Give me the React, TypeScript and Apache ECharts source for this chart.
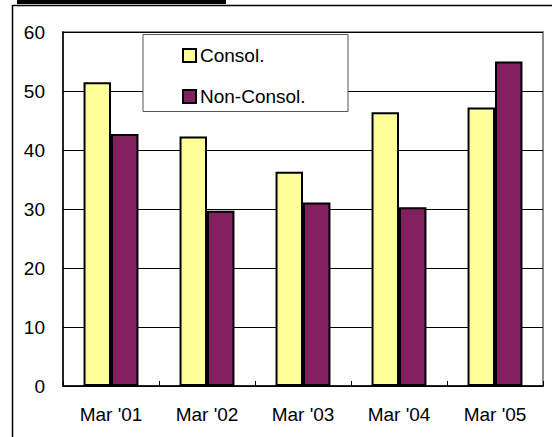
import React, { useEffect, useRef } from "react";
import * as echarts from "echarts";

const categories = ["Mar '01", "Mar '02", "Mar '03", "Mar '04", "Mar '05"];
const consol = [51.5, 42.3, 36.3, 46.4, 47.2];
const nonConsol = [42.7, 29.7, 31.1, 30.3, 55.0];
const seriesNames = ["Consol.", "Non-Consol."];

const FONT = 'Arial, "Liberation Sans", Helvetica, sans-serif';

export default function App() {
  const ref = useRef<HTMLDivElement>(null);
  useEffect(() => {
    if (!ref.current) return;
    const chart = echarts.init(ref.current, null, { renderer: "svg" });
    chart.setOption({
      animation: false,
      backgroundColor: "#ffffff",
      textStyle: { fontFamily: FONT },
      grid: {
        left: 63,
        right: 9,
        top: 32,
        bottom: 51,
        show: true,
        borderColor: "#8c8c8c",
        borderWidth: 2,
        backgroundColor: "transparent",
      },
      graphic: [
        { type: "line", shape: { x1: 12.5, y1: 5.5, x2: 552, y2: 5.5 }, style: { stroke: "#000", lineWidth: 1.5 } },
        { type: "line", shape: { x1: 12.5, y1: 5, x2: 12.5, y2: 437 }, style: { stroke: "#000", lineWidth: 1.5 } },
        { type: "rect", shape: { x: 17, y: 0, width: 209, height: 4 }, style: { fill: "#000" } },
        {
          type: "rect",
          shape: { x: 143, y: 34.5, width: 205, height: 77 },
          style: { fill: "#fff", stroke: "#555", lineWidth: 1 },
          z: 10,
        },
      ],
      legend: {
        orient: "vertical",
        left: 182,
        top: 46,
        itemWidth: 13,
        itemHeight: 13,
        itemGap: 22,
        padding: 0,
        z: 20,
        icon: "rect",
        data: seriesNames,
        textStyle: { fontSize: 19, color: "#000", fontFamily: FONT, padding: [0, 0, 0, -1] },
        itemStyle: { borderColor: "#000", borderWidth: 2 },
      },
      xAxis: {
        type: "category",
        data: categories,
        axisLine: { lineStyle: { color: "#000", width: 1.5 } },
        axisTick: { show: true, inside: true, length: 5, lineStyle: { color: "#000" } },
        axisLabel: { fontSize: 19, color: "#000", margin: 19, fontFamily: FONT },
      },
      yAxis: {
        type: "value",
        min: 0,
        max: 60,
        interval: 10,
        axisLine: { show: true, lineStyle: { color: "#000", width: 1.5 } },
        axisTick: { show: false },
        splitLine: { lineStyle: { color: "#000", width: 1 } },
        axisLabel: { fontSize: 19, color: "#000", margin: 18, fontFamily: FONT },
      },
      series: [
        {
          name: seriesNames[0],
          type: "bar",
          data: consol,
          barWidth: "28.6%",
          barGap: "0%",
          itemStyle: { color: "#ffff99", borderColor: "#000", borderWidth: 2 },
        },
        {
          name: seriesNames[1],
          type: "bar",
          data: nonConsol,
          barWidth: "28.6%",
          barGap: "0%",
          itemStyle: { color: "#822060", borderColor: "#000", borderWidth: 2 },
        },
      ],
    });
    return () => chart.dispose();
  }, []);
  return (
    <div
      ref={ref}
      style={{ position: "fixed", left: 0, top: 0, width: 552, height: 437 }}
    />
  );
}
